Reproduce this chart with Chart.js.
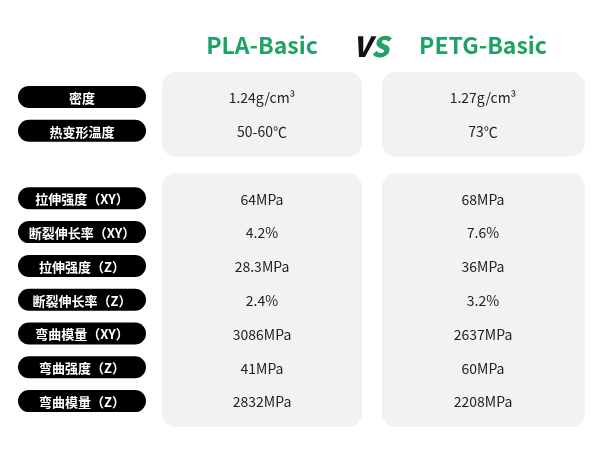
<!DOCTYPE html>
<html><head><meta charset="utf-8">
<script src="https://cdn.jsdelivr.net/npm/chart.js@4/dist/chart.umd.min.js"></script>
<style>html,body{margin:0;padding:0;background:#fff}#wrap{width:600px;height:461px}</style>
</head><body><div id="wrap"><canvas id="c" width="600" height="461"></canvas></div>
<script>
const properties = ['密度','热变形温度','','拉伸强度（XY）','断裂伸长率（XY）','拉伸强度（Z）','断裂伸长率（Z）','弯曲模量（XY）','弯曲强度（Z）','弯曲模量（Z）'];
const plaValues  = ['1.24g/cm³','50-60℃','','64MPa','4.2%','28.3MPa','2.4%','3086MPa','41MPa','2832MPa'];
const petgValues = ['1.27g/cm³','73℃','','68MPa','7.6%','36MPa','3.2%','2637MPa','60MPa','2208MPa'];
const seriesNames = ['PLA-Basic','PETG-Basic'];
const columnCenters = [82, 262, 483];
const blocks = [[0,1],[3,9]];
const green = '#1ea366';
const FONT = '"Noto Sans CJK SC","Noto Sans",sans-serif';

function rr(ctx,x,y,w,h,r){ctx.beginPath();ctx.moveTo(x+r,y);ctx.arcTo(x+w,y,x+w,y+h,r);ctx.arcTo(x+w,y+h,x,y+h,r);ctx.arcTo(x,y+h,x,y,r);ctx.arcTo(x,y,x+w,y,r);ctx.closePath();}

const tablePlugin = {
  id:'table',
  beforeDatasetsDraw(chart){
    const ctx=chart.ctx, x=chart.scales.x, y=chart.scales.y;
    ctx.save();
    // panels
    blocks.forEach(([a,b])=>{
      const top=y.getPixelForValue(a)-25, bot=y.getPixelForValue(b)+26;
      [[x.getPixelForValue(162),x.getPixelForValue(362)],[x.getPixelForValue(382),x.getPixelForValue(585)]].forEach(([l,r])=>{
        ctx.fillStyle='#f2f2f2'; rr(ctx,l,top,r-l,bot-top,14); ctx.fill();
      });
    });
    // headers
    ctx.textAlign='center'; ctx.textBaseline='middle';
    ctx.font='bold 23px '+FONT; ctx.fillStyle=green;
    ctx.fillText(seriesNames[0], x.getPixelForValue(columnCenters[1]), 45);
    ctx.fillText(seriesNames[1], x.getPixelForValue(columnCenters[2]), 45);
    ctx.font='italic 900 28px '+FONT; ctx.fillStyle='#111';
    ctx.fillText('V', x.getPixelForValue(362), 46);
    ctx.fillStyle=green; ctx.fillText('S', x.getPixelForValue(380), 46);
    // rows
    properties.forEach((p,i)=>{
      if(!p) return;
      const cy=y.getPixelForValue(i);
      ctx.fillStyle='#000'; rr(ctx,x.getPixelForValue(18),cy-11,128,22,11); ctx.fill();
      ctx.fillStyle='#fff'; ctx.font='bold 13px '+FONT;
      ctx.fillText(p, x.getPixelForValue(columnCenters[0]), cy+1);
      ctx.fillStyle='#222'; ctx.font='14px '+FONT;
      ctx.fillText(plaValues[i], x.getPixelForValue(columnCenters[1]), cy+1);
      ctx.fillText(petgValues[i], x.getPixelForValue(columnCenters[2]), cy+1);
    });
    ctx.restore();
  }
};

new Chart(document.getElementById('c'),{
  type:'bar',
  data:{labels:properties,datasets:[{data:properties.map(()=>null)}]},
  options:{
    indexAxis:'y',responsive:false,animation:false,
    layout:{padding:{top:80,bottom:43,left:0,right:0}},
    plugins:{legend:{display:false},tooltip:{enabled:false}},
    scales:{x:{type:'linear',min:0,max:600,display:false},y:{type:'category',display:false}}
  },
  plugins:[tablePlugin]
});
</script></body></html>
